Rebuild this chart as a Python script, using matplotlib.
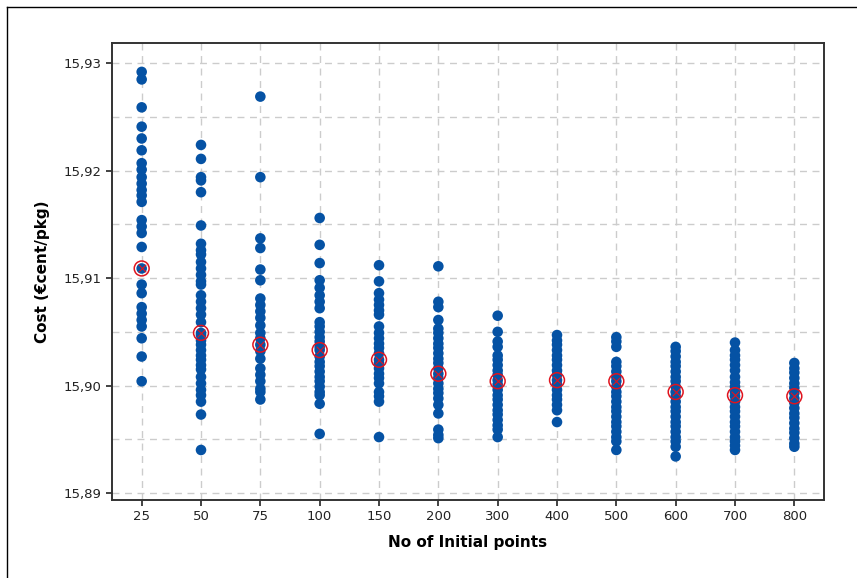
import matplotlib
matplotlib.use("Agg")
import matplotlib.pyplot as plt
from matplotlib.lines import Line2D
from matplotlib.ticker import MultipleLocator, FuncFormatter

# ================================
# DATA
# ================================
categories = ["25", "50", "75", "100", "150", "200", "300", "400", "500", "600", "700", "800"]

c25 = [15.9292, 15.9285, 15.9259, 15.9241, 15.9230, 15.9219, 15.9207, 15.9201,
       15.9194, 15.9188, 15.9182, 15.9177, 15.9171, 15.9154, 15.9148, 15.9142,
       15.9129, 15.9109, 15.9094, 15.9086, 15.9073, 15.9067, 15.9061, 15.9055,
       15.9044, 15.9027, 15.9004]
c50 = [15.9224, 15.9211, 15.9194, 15.9191, 15.9180, 15.9149, 15.9132, 15.9126,
       15.9122, 15.9115, 15.9109, 15.9103, 15.9097, 15.9094, 15.9084, 15.9078,
       15.9072, 15.9066, 15.9059, 15.9049, 15.9047, 15.9042, 15.9038, 15.9033,
       15.9028, 15.9024, 15.9019, 15.9015, 15.9008, 15.9002, 15.8996, 15.8991,
       15.8985, 15.8973, 15.8940]
c75 = [15.9269, 15.9194, 15.9137, 15.9128, 15.9108, 15.9098, 15.9081, 15.9075,
       15.9069, 15.9063, 15.9056, 15.9049, 15.9044, 15.9038, 15.9032, 15.9025,
       15.9016, 15.9010, 15.9004, 15.8997, 15.8994, 15.8987]
c100 = [15.9156, 15.9131, 15.9114, 15.9098, 15.9091, 15.9084, 15.9078, 15.9072,
        15.9059, 15.9055, 15.9050, 15.9045, 15.9041, 15.9036, 15.9033, 15.9027,
        15.9022, 15.9018, 15.9013, 15.9008, 15.9004, 15.8999, 15.8994, 15.8991,
        15.8983, 15.8955]
c150 = [15.9112, 15.9097, 15.9086, 15.9080, 15.9075, 15.9070, 15.9066, 15.9055,
        15.9049, 15.9044, 15.9039, 15.9035, 15.9030, 15.9024, 15.9021, 15.9016,
        15.9011, 15.9007, 15.9002, 15.8994, 15.8990, 15.8985, 15.8952]
c200 = [15.9111, 15.9078, 15.9073, 15.9061, 15.9053, 15.9049, 15.9044, 15.9039,
        15.9035, 15.9030, 15.9025, 15.9021, 15.9016, 15.9011, 15.9007, 15.9002,
        15.8997, 15.8993, 15.8988, 15.8982, 15.8974, 15.8959, 15.8954, 15.8951]
c300 = [15.9065, 15.9050, 15.9041, 15.9036, 15.9028, 15.9024, 15.9019, 15.9014,
        15.9010, 15.9005, 15.9001, 15.8996, 15.8991, 15.8987, 15.8982, 15.8977,
        15.8973, 15.8968, 15.8963, 15.8959, 15.8952]
c400 = [15.9047, 15.9042, 15.9038, 15.9033, 15.9028, 15.9024, 15.9019, 15.9014,
        15.9010, 15.9005, 15.9001, 15.8996, 15.8991, 15.8987, 15.8982, 15.8977,
        15.8966]
c500 = [15.9045, 15.9041, 15.9036, 15.9022, 15.9018, 15.9013, 15.9008, 15.9004,
        15.8999, 15.8994, 15.8990, 15.8985, 15.8980, 15.8976, 15.8971, 15.8966,
        15.8962, 15.8957, 15.8952, 15.8948, 15.8940]
c600 = [15.9036, 15.9032, 15.9027, 15.9022, 15.9018, 15.9013, 15.9008, 15.9004,
        15.8999, 15.8994, 15.8990, 15.8985, 15.8980, 15.8976, 15.8971, 15.8966,
        15.8962, 15.8957, 15.8952, 15.8948, 15.8943, 15.8934]
c700 = [15.9040, 15.9033, 15.9028, 15.9024, 15.9019, 15.9014, 15.9008, 15.9003,
        15.8999, 15.8994, 15.8990, 15.8985, 15.8980, 15.8976, 15.8971, 15.8966,
        15.8962, 15.8957, 15.8952, 15.8948, 15.8944, 15.8940]
c800 = [15.9021, 15.9016, 15.9012, 15.9007, 15.9002, 15.8998, 15.8993, 15.8988,
        15.8984, 15.8979, 15.8974, 15.8970, 15.8965, 15.8960, 15.8956, 15.8951,
        15.8946, 15.8943]

columns = [c25, c50, c75, c100, c150, c200, c300, c400, c500, c600, c700, c800]
means = [15.9109, 15.9049, 15.9038, 15.9033, 15.9024, 15.9011,
         15.9004, 15.9005, 15.9004, 15.8994, 15.8991, 15.8990]

# ================================
# FIGURE
# ================================
fig = plt.figure(figsize=(8.57, 5.78), dpi=100)
ax = fig.add_axes([0.1307, 0.1349, 0.8308, 0.7907])

blue = "#0552a4"
red = "#e0141e"

for i, vals in enumerate(columns):
    ax.scatter([i] * len(vals), vals, s=58, color=blue, edgecolors="none", zorder=3)

xs = list(range(len(categories)))
ax.scatter(xs, means, s=115, facecolors="none", edgecolors=red, linewidths=1.1, zorder=4)
ax.scatter(xs, means, s=30, marker="x", color=red, linewidths=0.8, zorder=4)

ax.set_xlim(-0.5, 11.5)
ax.set_ylim(15.88934, 15.93189)

ax.set_xticks(xs)
ax.set_xticklabels(categories)
ax.yaxis.set_major_locator(MultipleLocator(0.01))
ax.yaxis.set_minor_locator(MultipleLocator(0.005))
ax.yaxis.set_major_formatter(FuncFormatter(lambda v, p: f"{v:.2f}".replace(".", ",")))

ax.grid(True, which="both", axis="y", color="#cccccc", linestyle=(0, (5, 4)), linewidth=1.0, zorder=0)
ax.grid(True, which="major", axis="x", color="#cccccc", linestyle=(0, (5, 4)), linewidth=1.0, zorder=0)
ax.set_axisbelow(True)

ax.tick_params(axis="both", which="major", direction="out", length=4, width=1.2,
               labelsize=9.5, colors="#222222")
ax.tick_params(axis="y", which="minor", length=0)

for sp in ax.spines.values():
    sp.set_linewidth(1.4)
    sp.set_color("#333333")

ax.set_xlabel("No of Initial points", fontsize=11, fontweight="bold", labelpad=8)
ax.set_ylabel("Cost (€cent/pkg)", fontsize=11, fontweight="bold", labelpad=10)

# outer frame (left and top edges only visible)
fig.add_artist(Line2D([7 / 857, 7 / 857], [0, 1 - 7 / 578], color="black", linewidth=1.0))
fig.add_artist(Line2D([7 / 857, 1], [1 - 7 / 578, 1 - 7 / 578], color="black", linewidth=1.0))

fig.savefig("out.png", dpi=100)
